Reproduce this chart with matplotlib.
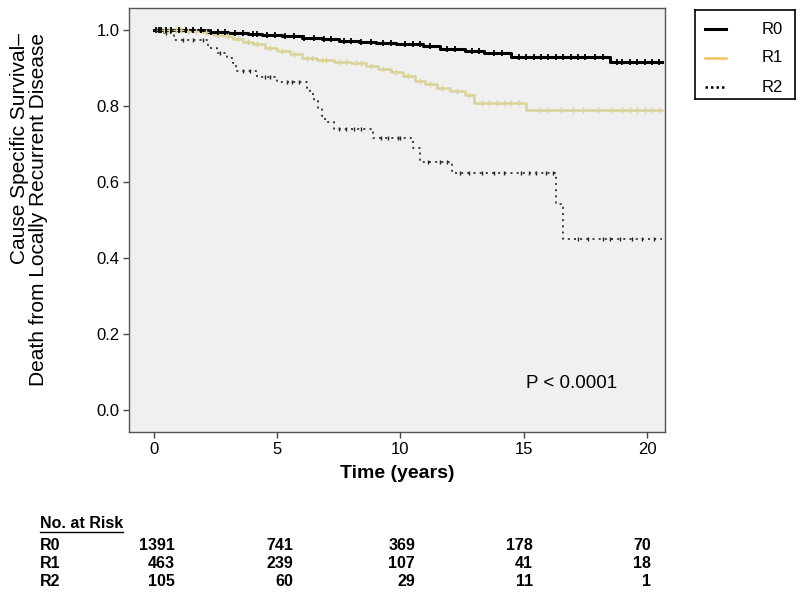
import numpy as np
import matplotlib
matplotlib.use("Agg")
import matplotlib.pyplot as plt
from matplotlib.lines import Line2D

plt.rcParams['font.family'] = ['Liberation Sans', 'DejaVu Sans']

# ---------------- data ----------------
groups = ["R0", "R1", "R2"]

r0_times = [0, 1.5, 2.2, 3.0, 3.8, 4.4, 5.2, 6.0, 6.8, 7.5, 8.3, 9.0, 9.8, 10.9, 11.6, 12.6, 13.4, 14.5, 18.5]
r0_surv = [1.0, 0.998, 0.995, 0.992, 0.989, 0.985, 0.982, 0.978, 0.975, 0.971, 0.968, 0.965, 0.962, 0.956, 0.948, 0.945, 0.938, 0.927, 0.915]
r0_cens = [0.1, 0.2, 0.3, 0.5, 0.7, 1.0, 1.3, 1.6, 1.9, 2.3, 2.6, 2.9, 3.3, 3.6, 4.0, 4.2, 4.6, 4.9, 5.3, 5.7,
           6.1, 6.5, 6.9, 7.2, 7.7, 8.0, 8.4, 8.8, 9.3, 9.6, 10.2, 10.5, 10.8, 11.2, 11.9, 12.2, 12.9, 13.2,
           13.8, 14.1, 14.8, 15.1, 15.4, 15.7, 16.0, 16.3, 16.6, 16.9, 17.2, 17.5, 17.9, 18.2, 18.8, 19.0,
           19.3, 19.6, 19.9, 20.2, 20.5]

r1_times = [0, 0.5, 1.2, 1.9, 2.4, 2.8, 3.2, 3.6, 4.0, 4.5, 5.0, 5.5, 6.0, 6.6, 7.3, 8.0, 8.6, 9.1, 9.6, 10.1,
            10.6, 11.0, 11.5, 12.0, 12.6, 13.0, 15.1]
r1_surv = [1.0, 0.998, 0.996, 0.993, 0.987, 0.982, 0.975, 0.968, 0.962, 0.953, 0.945, 0.935, 0.925, 0.921, 0.916,
           0.911, 0.905, 0.896, 0.889, 0.878, 0.866, 0.857, 0.846, 0.838, 0.828, 0.807, 0.788]
r1_cens = [0.2, 0.4, 0.6, 0.9, 1.1, 1.4, 1.7, 2.1, 2.6, 3.0, 3.4, 3.8, 4.2, 4.7, 5.2, 5.7, 6.2, 6.4, 6.8, 7.0,
           7.5, 7.8, 8.2, 8.4, 8.8, 9.3, 9.8, 10.3, 10.8, 11.2, 11.7, 12.3, 12.8, 13.3, 13.6, 13.9, 14.2,
           14.5, 14.8, 15.6, 16.0, 16.5, 17.0, 17.4, 18.0, 18.6, 19.0, 19.3, 19.6, 19.9, 20.2, 20.5]

r2_times = [0, 0.25, 0.8, 2.2, 2.55, 2.95, 3.2, 3.35, 4.2, 5.0, 6.2, 6.35, 6.5, 6.65, 6.8, 6.95, 7.3, 8.9,
            10.5, 10.8, 12.1, 16.3, 16.6]
r2_surv = [1.0, 0.99, 0.972, 0.952, 0.939, 0.926, 0.912, 0.89, 0.876, 0.861, 0.847, 0.83, 0.812, 0.795, 0.774,
           0.757, 0.738, 0.716, 0.688, 0.652, 0.622, 0.541, 0.45]
r2_cens = [0.1, 0.5, 1.2, 1.6, 2.0, 2.7, 3.6, 3.9, 4.5, 4.7, 5.4, 5.6, 5.9, 7.5, 7.8, 8.1, 8.4, 9.2, 9.5, 9.9,
           10.0, 11.1, 11.6, 11.9, 12.4, 12.8, 13.3, 13.8, 14.2, 14.9, 15.2, 15.5, 15.9, 16.2, 17.2, 17.6,
           18.2, 18.5, 18.9, 19.4, 19.8, 20.3]

end_time = 20.6

x_ticks = [0, 5, 10, 15, 20]
y_ticks = [0.0, 0.2, 0.4, 0.6, 0.8, 1.0]

risk_r0 = [1391, 741, 369, 178, 70]
risk_r1 = [463, 239, 107, 41, 18]
risk_r2 = [105, 60, 29, 11, 1]
p_text = "P < 0.0001"

# ---------------- figure ----------------
W, H = 800, 592
fig = plt.figure(figsize=(8, 5.92), dpi=100)
fig.patch.set_facecolor("white")

def fx(px):
    return px / W

def fy(py):
    return 1 - py / H

ax_l, ax_r, ax_t, ax_b = 129, 665, 8, 432
ax = fig.add_axes([fx(ax_l), fy(ax_b), (ax_r - ax_l) / W, (ax_b - ax_t) / H])
ax.set_facecolor("#f0f0f0")

styles = {
    "R0": dict(color="black", lw=2.2, ls="-", marker="|", ms=4, mew=1.3),
    "R1": dict(color="#d9d39a", lw=1.8, ls="-", marker="+", ms=5, mew=1.0),
    "R2": dict(color="#222222", lw=1.2, ls=(0, (1.2, 2.5)), marker="|", ms=3, mew=1.0),
}
data = {
    "R0": (r0_times, r0_surv, r0_cens),
    "R1": (r1_times, r1_surv, r1_cens),
    "R2": (r2_times, r2_surv, r2_cens),
}

for g in ["R1", "R0", "R2"]:
    t, s, c = data[g]
    st = styles[g]
    tt = list(t) + [end_time]
    ss = list(s) + [s[-1]]
    ax.step(tt, ss, where="post", color=st["color"], lw=st["lw"], ls=st["ls"], zorder=3)
    idx = np.searchsorted(np.array(t), np.array(c), side="right") - 1
    cs = np.array(s)[idx]
    ax.plot(c, cs, ls="none", marker=st["marker"], ms=st["ms"], mew=st["mew"],
            color=st["color"], zorder=4)

ax.set_xlim(-1.01, 20.73)
ax.set_ylim(-0.059, 1.057)
ax.set_xticks(x_ticks)
ax.set_xticklabels([str(v) for v in x_ticks])
ax.set_yticks(y_ticks)
ax.set_yticklabels([f"{v:.1f}" for v in y_ticks])
ax.tick_params(axis="both", direction="out", length=4, width=1, color="#444444",
               labelsize=12, pad=3)
for sp in ax.spines.values():
    sp.set_color("#555555")
    sp.set_linewidth(1.0)

ax.set_xlabel("Time (years)", fontsize=14, fontweight="bold", labelpad=6)
fig.text(fx(29), fy(33), "Cause Specific Survival\u2013\nDeath from Locally Recurrent Disease",
         rotation=90, ha="center", va="top", fontsize=15, linespacing=1.0,
         multialignment="right")

ax.text(18.78, 0.068, p_text, fontsize=13.5, ha="right", va="center")

# legend box
lg = fig.add_axes([fx(695), fy(99), 100 / W, 89 / H])
lg.set_xlim(0, 100)
lg.set_ylim(89, 0)
lg.set_xticks([])
lg.set_yticks([])
for sp in lg.spines.values():
    sp.set_color("black")
    sp.set_linewidth(1.2)
leg_colors = {"R0": ("black", "-", 2.2), "R1": ("#f0c55a", "-", 1.8), "R2": ("black", (0, (1, 1.2)), 1.8)}
for i, g in enumerate(groups):
    yy = 19 + i * 29
    c, ls, lw = leg_colors[g]
    lg.plot([10, 31], [yy, yy], color=c, ls=ls, lw=lw)
    lg.text(67, yy, g, fontsize=12, ha="left", va="center")

# risk table
tfont = dict(fontsize=11.5, fontweight="bold", family=["Liberation Sans Narrow", "Liberation Sans", "DejaVu Sans"])
fig.text(fx(40), fy(523), "No. at Risk", ha="left", va="center", **tfont)
fig.add_artist(Line2D([fx(40), fx(123)], [fy(532), fy(532)], color="black", lw=1.0))
col_right = [175, 293, 415, 533, 651]
rows = [("R0", risk_r0, 545), ("R1", risk_r1, 563), ("R2", risk_r2, 581)]
for name, vals, py in rows:
    fig.text(fx(40), fy(py), name, ha="left", va="center", **tfont)
    for xr, v in zip(col_right, vals):
        fig.text(fx(xr), fy(py), str(v), ha="right", va="center", **tfont)

fig.savefig("out.png", dpi=100, facecolor="white")
